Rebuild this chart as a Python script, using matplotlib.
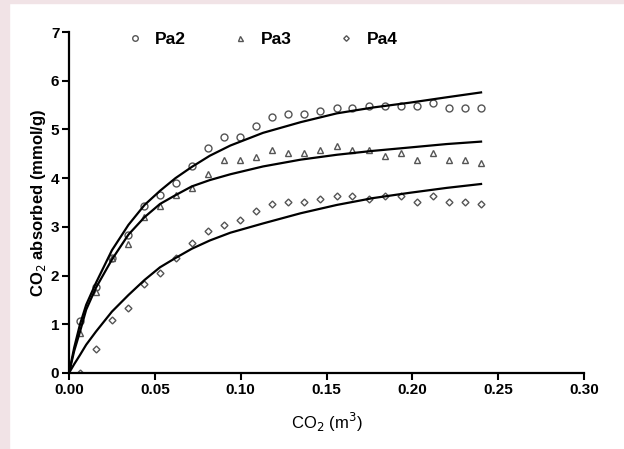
import matplotlib
matplotlib.use("Agg")
import matplotlib.pyplot as plt
from matplotlib.patches import Rectangle

plt.rcParams["font.family"] = ["Liberation Sans", "DejaVu Sans"]

# measured points
co2_x = [0.0063, 0.0155, 0.0250, 0.0343, 0.0439, 0.0531, 0.0622, 0.0717, 0.0807,
         0.0903, 0.0995, 0.1090, 0.1183, 0.1278, 0.1370, 0.1464, 0.1560, 0.1650,
         0.1745, 0.1838, 0.1933, 0.2026, 0.2120, 0.2213, 0.2306, 0.2400]
pa2 = [1.06, 1.76, 2.36, 2.83, 3.43, 3.65, 3.90, 4.24, 4.61, 4.84, 4.84, 5.08, 5.25,
       5.32, 5.32, 5.37, 5.43, 5.43, 5.49, 5.49, 5.49, 5.49, 5.55, 5.43, 5.43, 5.43]
pa3 = [0.82, 1.66, 2.36, 2.65, 3.21, 3.43, 3.65, 3.79, 4.09, 4.37, 4.37, 4.44, 4.58,
       4.51, 4.51, 4.58, 4.66, 4.58, 4.58, 4.45, 4.51, 4.37, 4.51, 4.37, 4.37, 4.31]
pa4 = [0.00, 0.50, 1.09, 1.33, 1.82, 2.06, 2.37, 2.66, 2.91, 3.03, 3.15, 3.33, 3.46,
       3.52, 3.52, 3.58, 3.64, 3.64, 3.58, 3.64, 3.64, 3.52, 3.64, 3.52, 3.52, 3.46]

# fitted curves
fit_x = [0, 0.003, 0.0064, 0.010, 0.0157, 0.025, 0.0346, 0.044, 0.053, 0.062,
         0.0715, 0.082, 0.094, 0.113, 0.135, 0.156, 0.177, 0.1986, 0.220, 0.240]
fit_pa2 = [0, 0.52, 1.00, 1.40, 1.85, 2.52, 3.04, 3.45, 3.74, 4.00,
           4.23, 4.46, 4.67, 4.93, 5.15, 5.33, 5.45, 5.55, 5.66, 5.76]
fit_pa3 = [0, 0.45, 0.85, 1.30, 1.75, 2.33, 2.84, 3.20, 3.47, 3.65,
           3.83, 3.96, 4.08, 4.24, 4.38, 4.48, 4.56, 4.63, 4.70, 4.75]
fit_pa4 = [0, 0.18, 0.37, 0.58, 0.85, 1.26, 1.60, 1.91, 2.17, 2.36,
           2.55, 2.72, 2.88, 3.07, 3.28, 3.45, 3.59, 3.70, 3.80, 3.88]

x_ticks = [0.00, 0.05, 0.10, 0.15, 0.20, 0.25, 0.30]
y_ticks = [0, 1, 2, 3, 4, 5, 6, 7]

fig = plt.figure(figsize=(6.24, 4.49), dpi=100)
fig.patches.append(Rectangle((0, 0), 9 / 624, 1, transform=fig.transFigure,
                             color="#f1e3e6", zorder=0))
fig.patches.append(Rectangle((0, 1 - 3 / 449), 1, 3 / 449, transform=fig.transFigure,
                             color="#f1e3e6", zorder=0))
ax = fig.add_axes([0.1106, 0.1693, 0.8254, 0.7594])

mk = dict(linestyle="none", markerfacecolor="white", markeredgecolor="#555555",
          markeredgewidth=1.0)
ax.plot(co2_x, pa2, marker="o", markersize=5, label="Pa2", **mk)
ax.plot(co2_x, pa3, marker="^", markersize=4.5, label="Pa3", **mk)
ax.plot(co2_x, pa4, marker="D", markersize=3.5, label="Pa4", **mk)

for fy in (fit_pa2, fit_pa3, fit_pa4):
    ax.plot(fit_x, fy, color="black", linewidth=1.6, zorder=3)

ax.set_xlim(0, 0.30)
ax.set_ylim(0, 7)
ax.set_xticks(x_ticks)
ax.set_xticklabels([f"{v:.2f}" for v in x_ticks])
ax.set_yticks(y_ticks)
for lab in ax.get_xticklabels() + ax.get_yticklabels():
    lab.set_fontweight("bold")
    lab.set_fontsize(11)
ax.tick_params(width=1.5, length=5, pad=2)
ax.spines["top"].set_visible(False)
ax.spines["right"].set_visible(False)
ax.spines["left"].set_linewidth(1.6)
ax.spines["bottom"].set_linewidth(1.6)

ax.set_xlabel("CO$_2$ (m$^3$)", fontsize=12, labelpad=10)
ax.set_ylabel("CO$_2$ absorbed (mmol/g)", fontsize=12, fontweight="bold", labelpad=2)

leg = ax.legend(loc="upper left", bbox_to_anchor=(0.08, 1.045), ncol=3, frameon=False,
                handletextpad=0.7, columnspacing=2.6, handlelength=1.0, markerscale=0.8,
                prop={"weight": "bold", "size": 12.5})

fig.savefig("out.png", dpi=100)
